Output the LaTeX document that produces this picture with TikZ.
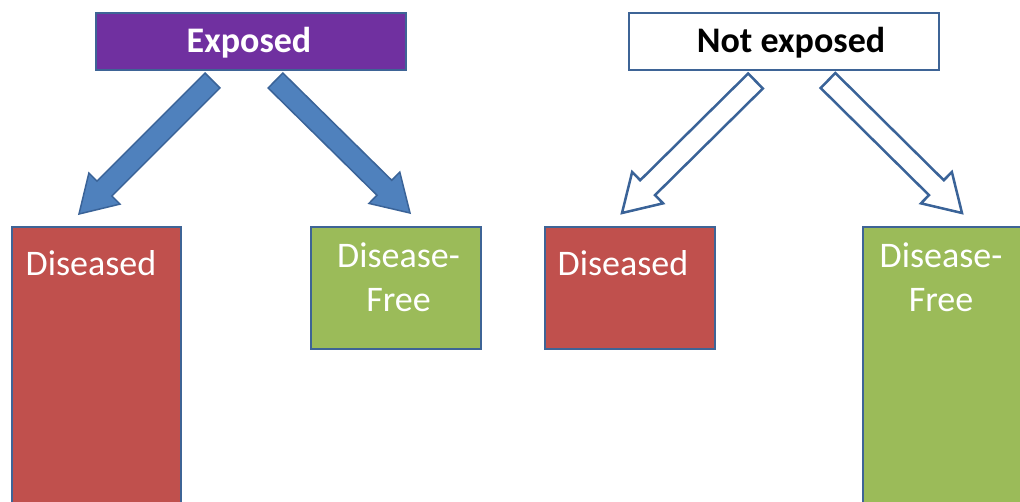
\documentclass[tikz,border=0pt]{standalone}
\usepackage{fontspec}
\setmainfont{Carlito}
\usetikzlibrary{calc}
\definecolor{expurple}{HTML}{7030A0}
\definecolor{boxline}{HTML}{3E6496}
\definecolor{disred}{HTML}{C0504D}
\definecolor{freegreen}{HTML}{9BBB59}
\definecolor{arrfill}{HTML}{4F81BD}
\definecolor{arrline}{HTML}{3A6398}
\tikzset{
  box/.style={draw=boxline, line width=2.2pt, inner sep=0pt, anchor=north west},
  lbl/.style={font=\fontsize{36}{44}\selectfont, align=center, anchor=base, inner sep=0pt},
  filledarrow/.style={fill=arrfill, draw=arrline, line width=1.5pt, line join=miter},
  hollowarrow/.style={fill=white, draw=arrline, line width=2.5pt, line join=miter},
}
\newcommand{\blockarrow}[3]{%
  \coordinate (#2-base) at ($(#3)!36pt!(#2)$);
  \draw[#1] ($(#2)!10.5pt!90:(#3)$) -- ($(#2-base)!10.5pt!90:(#3)$)
    -- ($(#2-base)!22pt!90:(#3)$) -- (#3) -- ($(#2-base)!22pt!-90:(#3)$)
    -- ($(#2-base)!10.5pt!-90:(#3)$) -- ($(#2)!10.5pt!-90:(#3)$) -- cycle;
}
\begin{document}
\begin{tikzpicture}[x=1pt,y=-1pt]
\clip (0,0) rectangle (1020,501);
\fill[white] (0,0) rectangle (1020,501);

% top boxes
\node[box, fill=expurple, minimum width=310pt, minimum height=57pt] (exposed) at (95,12) {};
\node[lbl, text=white] (exposedtxt) at (249,52) {\bfseries Exposed};
\node[box, fill=white, minimum width=310pt, minimum height=57pt] (notexposed) at (628,12) {};
\node[lbl, text=black] (notexposedtxt) at (791,52) {\bfseries Not exposed};

% outcome boxes
\node[box, fill=disred, minimum width=169pt, minimum height=300pt] (dis1) at (11,226) {};
\node[lbl, text=white] (dis1txt) at (91,275) {Diseased};
\node[box, fill=freegreen, minimum width=170pt, minimum height=122pt] (free1) at (310,226) {};
\node[lbl, text=white] (free1txt) at (398.5,311) {Disease-\\Free};
\node[box, fill=disred, minimum width=170pt, minimum height=122pt] (dis2) at (544,226) {};
\node[lbl, text=white] (dis2txt) at (623,275) {Diseased};
\node[box, fill=freegreen, minimum width=200pt, minimum height=300pt] (free2) at (862,226) {};
\node[lbl, text=white] (free2txt) at (941,311) {Disease-\\Free};

% arrow end points
\coordinate (t1) at (212.5,80.5); \coordinate (h1) at (79,214);
\coordinate (t2) at (275.5,80.5); \coordinate (h2) at (410,213);
\coordinate (t3) at (755.5,81);   \coordinate (h3) at (622,213);
\coordinate (t4) at (828,80.5);   \coordinate (h4) at (962,213);

\blockarrow{filledarrow}{t1}{h1}
\blockarrow{filledarrow}{t2}{h2}
\blockarrow{hollowarrow}{t3}{h3}
\blockarrow{hollowarrow}{t4}{h4}
\end{tikzpicture}
\end{document}
